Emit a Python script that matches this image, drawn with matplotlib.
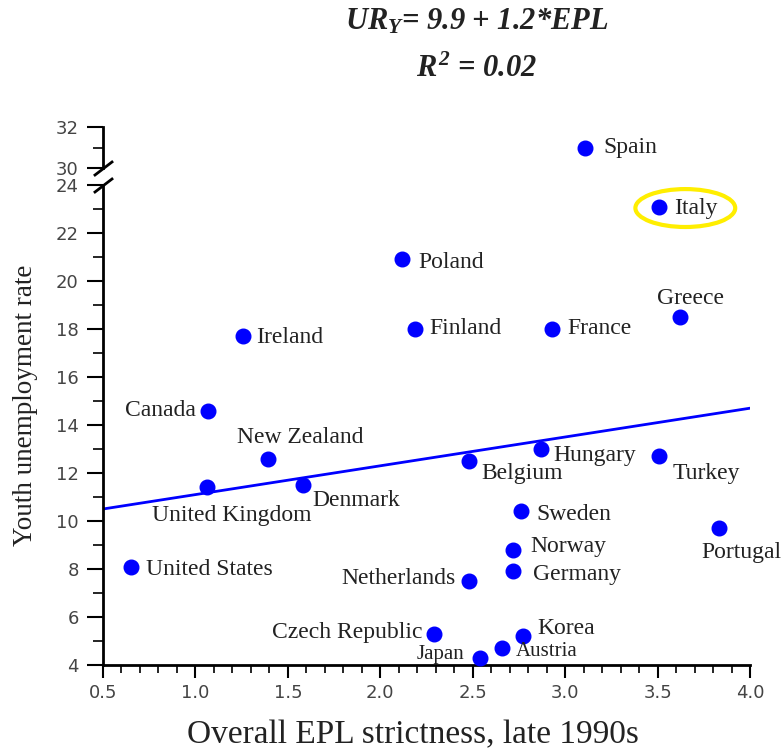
import numpy as np
import matplotlib
matplotlib.use("Agg")
import matplotlib.pyplot as plt
from matplotlib.patches import Ellipse
from matplotlib.ticker import MultipleLocator, FormatStrFormatter

plt.rcParams['font.family'] = ['Liberation Serif', 'DejaVu Serif']
plt.rcParams['mathtext.fontset'] = 'custom'
plt.rcParams['mathtext.rm'] = 'Liberation Serif:bold:italic'
plt.rcParams['mathtext.it'] = 'Liberation Serif:bold:italic'

# Data: EPL strictness (late 1990s) vs youth unemployment rate
countries = ["Spain", "Italy", "Poland", "Greece", "Ireland", "Finland", "France",
             "Canada", "New Zealand", "United Kingdom", "Denmark", "Belgium",
             "Hungary", "Turkey", "Sweden", "Portugal", "United States", "Norway",
             "Germany", "Netherlands", "Czech Republic", "Korea", "Austria", "Japan"]
epl = [3.11, 3.51, 2.12, 3.62, 1.26, 2.19, 2.93,
       1.07, 1.39, 1.06, 1.58, 2.48,
       2.87, 3.51, 2.76, 3.83, 0.65, 2.72,
       2.72, 2.48, 2.29, 2.77, 2.66, 2.54]
youth_ur = [31.0, 23.1, 20.9, 18.5, 17.7, 18.0, 18.0,
            14.6, 12.6, 11.4, 11.5, 12.5,
            13.0, 12.7, 10.4, 9.7, 8.1, 8.8,
            7.9, 7.5, 5.3, 5.2, 4.7, 4.3]

# regression line
intercept = 9.9
slope = 1.2
r2 = 0.02

# label offsets (pixels) and alignment
label_pos = {
    "Spain": (18, 0, "left"), "Italy": (15, -2, "left"), "Poland": (16, -3, "left"),
    "Greece": (11, 19, "center"), "Ireland": (13, -1, "left"), "Finland": (14, 0, "left"),
    "France": (15, 1, "left"), "Canada": (-12, 0, "right"),
    "New Zealand": (33, 21, "center"), "United Kingdom": (25, -28, "center"),
    "Denmark": (10, -15, "left"), "Belgium": (12, -13, "left"),
    "Hungary": (12, -7, "left"), "Turkey": (13, -17, "left"), "Sweden": (16, -3, "left"),
    "Portugal": (23, -24, "center"), "United States": (15, -3, "left"),
    "Norway": (17, 3, "left"), "Germany": (20, -3, "left"),
    "Netherlands": (-13, 2, "right"), "Czech Republic": (-11, 1, "right"),
    "Korea": (15, 8, "left"), "Austria": (14, -3, "left"), "Japan": (-16, 3, "right"),
}
small_labels = {"Austria", "Japan"}

fig = plt.figure(figsize=(7.82, 7.52), dpi=100)
W, H = 782, 752
ax = fig.add_axes([103 / W, 1 - 665 / H, (750 - 103) / W, (665 - 185) / H])
axt = fig.add_axes([103 / W, 1 - 168 / H, (750 - 103) / W, (168 - 127) / H])

blue = "#0000FF"
txt_col = "#222222"
tick_col = "#444444"

for a in (ax, axt):
    a.set_xlim(0.5, 4.0)
    a.spines['top'].set_visible(False)
    a.spines['right'].set_visible(False)
    for s in a.spines.values():
        s.set_linewidth(2)
    a.tick_params(axis='y', which='major', direction='out', length=11.5, width=1.5, pad=6)
    a.tick_params(axis='y', which='minor', direction='out', length=7, width=1.2)
    a.tick_params(axis='x', which='major', direction='out', length=9, width=1.5, pad=5)
    a.tick_params(axis='x', which='minor', direction='out', length=5.5, width=1.2)
    a.tick_params(axis='both', labelsize=13, labelcolor=tick_col)
    a.patch.set_visible(False)

ax.set_ylim(4, 24)
axt.set_ylim(30, 32)
axt.spines['bottom'].set_visible(False)
axt.set_xticks([])
ax.xaxis.set_major_locator(MultipleLocator(0.5))
ax.xaxis.set_minor_locator(MultipleLocator(0.1))
ax.xaxis.set_major_formatter(FormatStrFormatter('%.1f'))
ax.yaxis.set_major_locator(MultipleLocator(2))
ax.yaxis.set_minor_locator(MultipleLocator(1))
axt.yaxis.set_major_locator(MultipleLocator(2))
axt.yaxis.set_minor_locator(MultipleLocator(1))
for a in (ax, axt):
    for lab in a.get_xticklabels() + a.get_yticklabels():
        lab.set_family('DejaVu Sans')

# regression line
xl = np.array([0.5, 4.0])
ax.plot(xl, intercept + slope * xl, color=blue, lw=2, zorder=2)

# points
for c, x, y in zip(countries, epl, youth_ur):
    a = axt if y >= 30 else ax
    a.plot(x, y, 'o', color=blue, ms=10.5, mec=blue, clip_on=False, zorder=3)
    dx, dy, ha = label_pos[c]
    a.annotate(c, (x, y), xytext=(dx, dy), textcoords='offset pixels',
               ha=ha, va='center', fontsize=15 if c in small_labels else 17,
               color=txt_col, annotation_clip=False)

# highlight Italy
i = countries.index("Italy")
ax.add_patch(Ellipse((epl[i] + 0.14, youth_ur[i] - 0.06), 0.54, 1.58, fill=False,
                     edgecolor="#FFEE00", lw=3, clip_on=False, zorder=4))

# axis break marks
kw = dict(color='k', lw=2, clip_on=False, transform=fig.transFigure)
for y_lo, y_hi in ((192, 179), (175, 162)):
    fig.add_artist(plt.Line2D([95 / W, 112 / W], [1 - y_lo / H, 1 - y_hi / H], **kw))

fig.text(413 / W, 1 - 735 / H, "Overall EPL strictness, late 1990s", fontsize=24,
         color=txt_col, ha='center', va='center')
fig.text(26 / W, 1 - 405 / H, "Youth unemployment rate", rotation=90, fontsize=19.5,
         color=txt_col, ha='center', va='center')

fig.text(477 / W, 1 - 21 / H, r"$UR_Y$= %.1f + %.1f*EPL" % (intercept, slope),
         fontsize=22, fontweight='bold', fontstyle='italic', ha='center', va='center', color=txt_col)
fig.text(477 / W, 1 - 69 / H, r"$R^2$ = %.2f" % r2,
         fontsize=22, fontweight='bold', fontstyle='italic', ha='center', va='center', color=txt_col)

fig.savefig("out.png", dpi=100)
